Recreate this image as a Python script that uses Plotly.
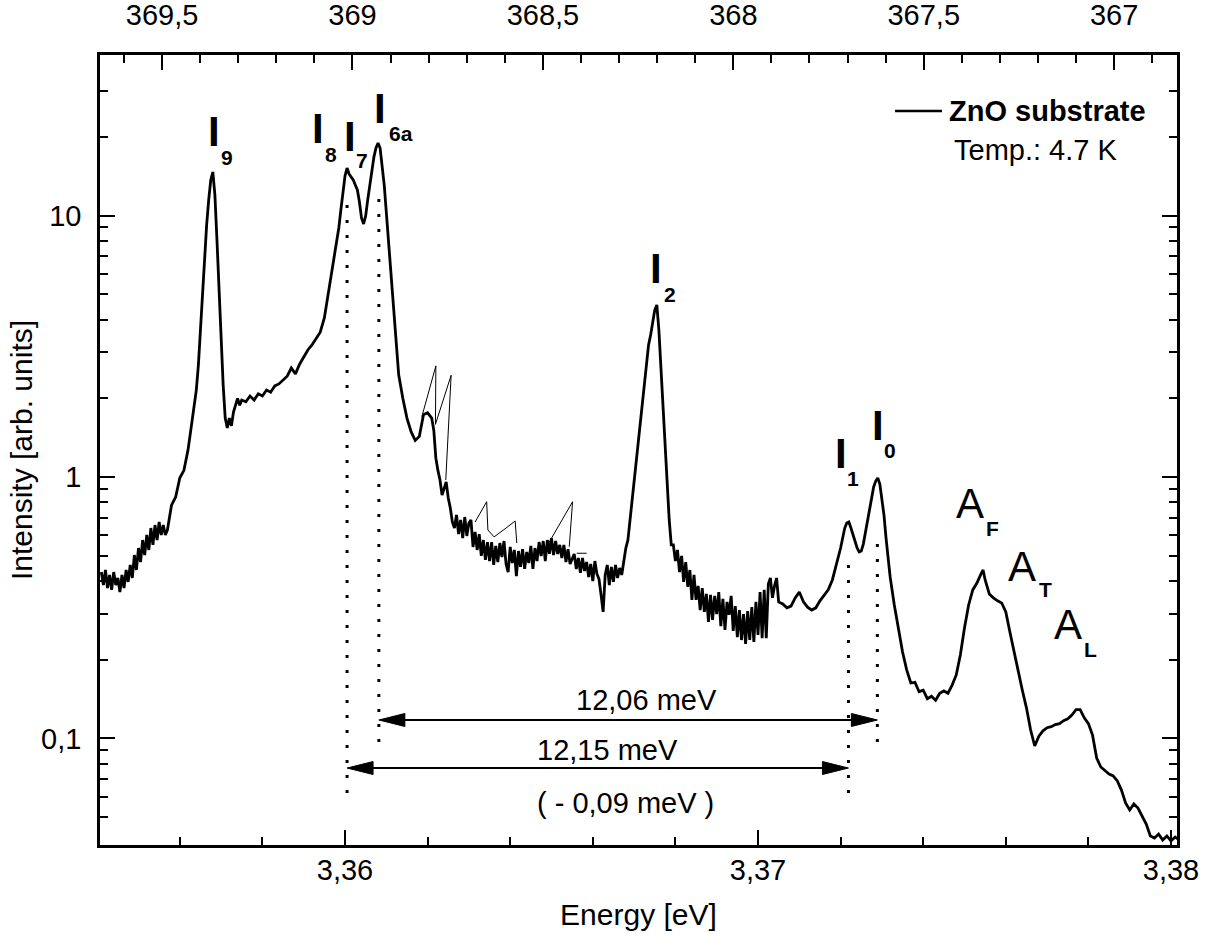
import numpy as np
import plotly.graph_objects as go

# ---------------- data (energy in eV, intensity in arb. units) ----------------
seg_a_energy = [3.35410, 3.35415, 3.35420, 3.35425, 3.35430, 3.35435, 3.35440, 3.35445, 3.35450, 3.35455,
                3.35460, 3.35465, 3.35470, 3.35475, 3.35480, 3.35485, 3.35490, 3.35495, 3.35500, 3.35505,
                3.35510, 3.35515, 3.35520, 3.35525, 3.35530, 3.35535, 3.35540, 3.35545, 3.35550, 3.35555,
                3.35560, 3.35565, 3.35570, 3.35575, 3.35580]
seg_a_intensity = [0.433, 0.386, 0.441, 0.376, 0.422, 0.370, 0.433, 0.386, 0.411, 0.363,
                   0.422, 0.376, 0.441, 0.397, 0.461, 0.411, 0.503, 0.441, 0.535, 0.473,
                   0.574, 0.503, 0.600, 0.526, 0.638, 0.550, 0.655, 0.574, 0.673, 0.600,
                   0.655, 0.600, 0.627, 0.716, 0.781]

seg_b_energy = [3.3559, 3.3560, 3.3561, 3.3562, 3.3563, 3.3564, 3.35645, 3.3565, 3.35655, 3.3566,
                3.35665, 3.3567, 3.35675, 3.3568, 3.35685, 3.3569, 3.35695, 3.3570, 3.35705, 3.3571,
                3.35715, 3.3572, 3.35725, 3.3573, 3.35735, 3.3574, 3.35745, 3.3575]
seg_b_intensity = [0.839, 0.991, 1.06, 1.27, 1.65, 2.15, 2.68, 3.65, 4.75, 7.06,
                   9.20, 11.47, 13.67, 14.67, 11.98, 8.06, 5.19, 3.34, 2.25, 1.68,
                   1.54, 1.68, 1.57, 1.77, 1.88, 2.00, 1.88, 1.97]

seg_c_energy = [3.3576, 3.3577, 3.3578, 3.3579, 3.3580, 3.3581, 3.3582, 3.3583, 3.3584, 3.3585,
                3.3586, 3.3587, 3.3588, 3.3589, 3.3590, 3.3591, 3.3592, 3.3593, 3.3594,
                3.3595, 3.35955, 3.3596, 3.35965, 3.3597, 3.35975, 3.3598, 3.35985, 3.3599, 3.35995,
                3.3600, 3.36005, 3.3601, 3.36015, 3.3602, 3.36025, 3.3603, 3.36035, 3.3604, 3.36045,
                3.3605, 3.36055, 3.3606, 3.36065, 3.3607, 3.36075, 3.3608, 3.36085, 3.3609, 3.36095,
                3.3610, 3.36105, 3.3611, 3.36115, 3.3612, 3.36125, 3.3613,
                3.3614, 3.3615, 3.3616, 3.3617, 3.3618, 3.3619, 3.3620, 3.3621,
                3.36215, 3.3622, 3.36225, 3.3623, 3.36235, 3.3624, 3.36245, 3.3625, 3.36255, 3.3626]
seg_c_intensity = [1.94, 2.04, 1.97, 2.08, 2.04, 2.15, 2.11, 2.23, 2.27, 2.35,
                   2.43, 2.61, 2.48, 2.70, 2.88, 3.06, 3.20, 3.40, 3.58,
                   4.06, 4.55, 5.10, 5.67, 6.30, 7.06, 7.92, 8.96, 10.50, 12.30,
                   14.16, 15.19, 14.41, 14.04, 13.67, 13.08, 12.52, 11.26, 9.78, 9.28,
                   9.96, 11.47, 13.20, 14.93, 16.74, 18.12, 18.93, 18.12, 15.60, 13.08,
                   10.31, 8.06, 6.30, 4.97, 3.91, 3.06, 2.46,
                   2.00, 1.68, 1.49, 1.38, 1.43, 1.73, 1.76, 1.68,
                   1.51, 1.18, 1.06, 0.974, 0.853, 0.908, 0.957, 0.831, 0.761, 0.673]

seg_d_energy = [3.36265, 3.36270, 3.36275, 3.36280, 3.36285, 3.36290, 3.36295, 3.36300, 3.36305, 3.36310,
                3.36315, 3.36320, 3.36325, 3.36330, 3.36335, 3.36340, 3.36345, 3.36350, 3.36355, 3.36360,
                3.36365, 3.36370, 3.36375, 3.36380, 3.36385, 3.36390, 3.36395, 3.36400, 3.36405, 3.36410,
                3.36415, 3.36420, 3.36425, 3.36430, 3.36435, 3.36440, 3.36445, 3.36450, 3.36455, 3.36460,
                3.36465, 3.36470, 3.36475, 3.36480, 3.36485, 3.36490, 3.36495, 3.36500, 3.36505, 3.36510,
                3.36515, 3.36520, 3.36525, 3.36530, 3.36535, 3.36540, 3.36545, 3.36550, 3.36555, 3.36560,
                3.36565, 3.36570, 3.36575, 3.36580, 3.36585, 3.36590, 3.36595, 3.36600, 3.36605, 3.36610,
                3.36615, 3.36620, 3.36625, 3.36630, 3.36635, 3.36640, 3.36645, 3.36650, 3.36655, 3.36660]
seg_d_intensity = [0.638, 0.716, 0.605, 0.685, 0.584, 0.703, 0.595, 0.667, 0.685, 0.540,
                   0.616, 0.526, 0.605, 0.499, 0.574, 0.482, 0.564, 0.477, 0.564, 0.461,
                   0.545, 0.473, 0.559, 0.494, 0.569, 0.465, 0.433, 0.540, 0.469, 0.526,
                   0.418, 0.521, 0.453, 0.530, 0.445, 0.517, 0.469, 0.545, 0.445, 0.535,
                   0.477, 0.564, 0.499, 0.569, 0.477, 0.574, 0.508, 0.584, 0.503, 0.569,
                   0.508, 0.550, 0.490, 0.550, 0.473, 0.530, 0.465, 0.486, 0.508, 0.445,
                   0.490, 0.430, 0.490, 0.437, 0.473, 0.414, 0.465, 0.400, 0.477, 0.426,
                   0.407, 0.354, 0.305, 0.422, 0.461, 0.386, 0.453, 0.397, 0.461, 0.411]

seg_e_energy = [3.36665, 3.3667, 3.36675, 3.3668, 3.36685, 3.3669, 3.36695, 3.3670, 3.36705, 3.3671,
                3.36715, 3.3672, 3.36725, 3.3673, 3.36735, 3.3674, 3.36745, 3.3675, 3.36755, 3.3676,
                3.36765, 3.3677, 3.36775, 3.3678, 3.36785, 3.3679]
seg_e_intensity = [0.449, 0.422, 0.482, 0.535, 0.574, 0.685, 0.781, 0.957, 1.16, 1.38,
                   1.65, 1.97, 2.39, 2.80, 3.20, 3.49, 3.98, 4.35, 4.55, 3.65,
                   2.61, 1.88, 1.33, 0.932, 0.685, 0.550]

seg_f_energy = [3.36795, 3.36800, 3.36805, 3.36810, 3.36815, 3.36820, 3.36825, 3.36830, 3.36835, 3.36840,
                3.36845, 3.36850, 3.36855, 3.36860, 3.36865, 3.36870, 3.36875, 3.36880, 3.36885, 3.36890,
                3.36895, 3.36900, 3.36905, 3.36910, 3.36915, 3.36920, 3.36925, 3.36930, 3.36935, 3.36940,
                3.36945, 3.36950, 3.36955, 3.36960, 3.36965, 3.36970, 3.36975, 3.36980, 3.36985, 3.36990,
                3.36995, 3.37000, 3.37005, 3.37010, 3.37015, 3.37020, 3.37025, 3.37030, 3.37035, 3.37040,
                3.37045, 3.37050]
seg_f_intensity = [0.550, 0.477, 0.526, 0.433, 0.499, 0.397, 0.473, 0.380, 0.441, 0.339,
                   0.422, 0.339, 0.383, 0.310, 0.376, 0.305, 0.357, 0.279, 0.354, 0.284,
                   0.351, 0.299, 0.363, 0.269, 0.342, 0.260, 0.333, 0.297, 0.351, 0.258,
                   0.321, 0.244, 0.310, 0.238, 0.299, 0.230, 0.307, 0.238, 0.318, 0.234,
                   0.333, 0.249, 0.363, 0.242, 0.370, 0.242, 0.390, 0.411, 0.345, 0.383,
                   0.411, 0.333]

seg_g_energy = [3.3706, 3.3707, 3.3708, 3.3709, 3.3710, 3.3711, 3.3712, 3.3713, 3.3714, 3.3715,
                3.3716, 3.3717, 3.3718, 3.3719,
                3.3720, 3.37205, 3.3721, 3.37215, 3.3722, 3.37225, 3.3723, 3.37235, 3.3724, 3.37245,
                3.3725, 3.37255, 3.3726, 3.37265, 3.3727, 3.37275, 3.3728, 3.37285, 3.3729, 3.37295,
                3.3730, 3.37305, 3.3731, 3.37315, 3.3732,
                3.3733, 3.3734, 3.3735, 3.3736, 3.3737, 3.3738, 3.3739, 3.3740, 3.3741, 3.3742,
                3.3743, 3.3744, 3.3745, 3.3746, 3.3747, 3.3748, 3.3749, 3.3750, 3.3751, 3.3752,
                3.3753, 3.3754, 3.37545,
                3.3755, 3.3756, 3.3757, 3.3758, 3.3759, 3.3760, 3.3761, 3.3762, 3.3763, 3.3764,
                3.3765, 3.3766, 3.3767, 3.3768, 3.3769, 3.3770, 3.3771, 3.3772, 3.3773, 3.3774,
                3.3775, 3.3776, 3.3777, 3.3778, 3.3779, 3.3780, 3.3781, 3.3782, 3.3783, 3.3784,
                3.3785, 3.3786, 3.3787, 3.3788, 3.3789, 3.3790, 3.3791, 3.3792, 3.3793, 3.3794,
                3.3795, 3.3796, 3.3797, 3.3798, 3.3799, 3.3800, 3.3801, 3.3802]
seg_g_intensity = [0.327, 0.316, 0.321, 0.345, 0.363, 0.333, 0.318, 0.310, 0.316, 0.336,
                   0.351, 0.370, 0.404, 0.461,
                   0.535, 0.584, 0.638, 0.667, 0.673, 0.638, 0.600, 0.564, 0.535, 0.517,
                   0.521, 0.554, 0.616, 0.685, 0.761, 0.839, 0.916, 0.965, 0.991, 0.940,
                   0.817, 0.716, 0.584, 0.490, 0.414,
                   0.324, 0.265, 0.214, 0.183, 0.163, 0.164, 0.151, 0.153, 0.142, 0.145,
                   0.140, 0.149, 0.152, 0.149, 0.160, 0.175, 0.209, 0.265, 0.324, 0.370,
                   0.393, 0.426, 0.441,
                   0.404, 0.357, 0.345, 0.336, 0.330, 0.305, 0.255, 0.214, 0.180, 0.153,
                   0.131, 0.108, 0.0936, 0.102, 0.107, 0.110, 0.111, 0.113, 0.114, 0.117,
                   0.119, 0.123, 0.129, 0.129, 0.120, 0.114, 0.103, 0.0842, 0.0778, 0.0751,
                   0.0731, 0.0719, 0.0688, 0.0635, 0.0567, 0.0533, 0.0562, 0.0542, 0.0505, 0.0471,
                   0.0424, 0.0416, 0.0431, 0.0409, 0.0424, 0.0406, 0.0420, 0.0409]

# thin overlay strokes (separate fragments)
thin_energy = [3.36186, 3.36220, 3.36219, 3.36257, 3.36244, None,
               3.36315, 3.36343, 3.36346, 3.36361, 3.36390, 3.36412, 3.36416, None,
               3.36488, 3.36551, 3.36543, None,
               3.36561, 3.36585]
thin_intensity = [1.70, 2.66, 1.59, 2.45, 0.974, None,
                  0.673, 0.804, 0.627, 0.590, 0.638, 0.679, 0.559, None,
                  0.541, 0.804, 0.541, None,
                  0.511, 0.511]

# dotted guide lines at I8, I6a, I1, I0
guide_energy = [3.36005, 3.36082, 3.37219, 3.37289]
guide_top = [11.77, 12.74, 0.482, 0.559]
guide_bottom = [0.0619, 0.0970, 0.0619, 0.0970]

# arrows between the guide lines
arrow_left = [3.36082, 3.36005]
arrow_right = [3.37289, 3.37219]
arrow_level = [0.1177, 0.0771]
arrow_text = ["12,06 meV", "12,15 meV", "( - 0,09 meV )"]
arrow_text_energy = [3.367288, 3.366344, 3.366780]
arrow_text_level = [0.1404, 0.0904, 0.0567]

# peak labels
label_main = ["I", "I", "I", "I", "I", "I", "I", "A", "A", "A"]
label_main_energy = [3.356828, 3.359358, 3.360109, 3.360847, 3.367542, 3.371998, 3.372906, 3.375121, 3.376380, 3.377494]
label_main_level = [20.95, 21.51, 20.05, 25.77, 6.245, 1.235, 1.580, 0.795, 0.455, 0.272]
label_sub = ["9", "8", "7", "6a", "2", "1", "0", "F", "T", "L"]
label_sub_energy = [3.357143, 3.359673, 3.360412, 3.361356, 3.367857, 3.372288, 3.373196, 3.375678, 3.376949, 3.378039]
label_sub_level = [16.67, 17.12, 16.23, 20.59, 4.988, 0.987, 1.268, 0.633, 0.370, 0.218]

bottom_tickvals = [3.36, 3.37, 3.38]
bottom_ticktext = ["3,36", "3,37", "3,38"]
left_tickvals = [0.1, 1, 10]
left_ticktext = ["0,1", "1", "10"]
left_minor = [0.05, 0.06, 0.07, 0.08, 0.09, 0.2, 0.3, 0.4, 0.5, 0.6, 0.7, 0.8, 0.9,
              2, 3, 4, 5, 6, 7, 8, 9, 20, 30]
top_tickvals = [369.5, 369.0, 368.5, 368.0, 367.5, 367.0]
top_ticktext = ["369,5", "369", "368,5", "368", "367,5", "367"]

# ---------------- layout geometry ----------------
W, H = 1216, 938
ML, MR, MT, MB = 100, 39, 55, 93
x_range = [3.354068, 3.380145]
y_log_range = [-1.4073, 1.6138]
wl_range = [369.663, 366.835]
FONT = "Liberation Sans, Arial, sans-serif"

energy = seg_a_energy + seg_b_energy + seg_c_energy + seg_d_energy + seg_e_energy + seg_f_energy + seg_g_energy
intensity = (seg_a_intensity + seg_b_intensity + seg_c_intensity + seg_d_intensity
             + seg_e_intensity + seg_f_intensity + seg_g_intensity)

fig = go.Figure()

fig.add_trace(go.Scatter(x=energy, y=intensity, mode="lines",
                         line=dict(color="black", width=2.8), name="ZnO substrate",
                         showlegend=False, hoverinfo="skip"))
fig.add_trace(go.Scatter(x=thin_energy, y=thin_intensity, mode="lines",
                         line=dict(color="black", width=1), connectgaps=False,
                         showlegend=False, hoverinfo="skip"))

for e, top, bot in zip(guide_energy, guide_top, guide_bottom):
    fig.add_trace(go.Scatter(x=[e, e], y=[bot, top], mode="lines",
                             line=dict(color="black", width=3, dash="3px,12px"),
                             showlegend=False, hoverinfo="skip"))

# arrow shafts and heads
ev_per_px = (x_range[1] - x_range[0]) / (W - ML - MR)
dec_per_px = (y_log_range[1] - y_log_range[0]) / (H - MT - MB)
head_len = 26 * ev_per_px
head_half = 10 ** (6.5 * dec_per_px)
for el, er, lv in zip(arrow_left, arrow_right, arrow_level):
    fig.add_trace(go.Scatter(x=[el + head_len * 0.5, er - head_len * 0.5], y=[lv, lv], mode="lines",
                             line=dict(color="black", width=2), showlegend=False, hoverinfo="skip"))
    fig.add_trace(go.Scatter(x=[el, el + head_len, el + head_len, el],
                             y=[lv, lv * head_half, lv / head_half, lv],
                             mode="lines", fill="toself", fillcolor="black",
                             line=dict(color="black", width=1), showlegend=False, hoverinfo="skip"))
    fig.add_trace(go.Scatter(x=[er, er - head_len, er - head_len, er],
                             y=[lv, lv * head_half, lv / head_half, lv],
                             mode="lines", fill="toself", fillcolor="black",
                             line=dict(color="black", width=1), showlegend=False, hoverinfo="skip"))

annotations = []
for t, e, v in zip(arrow_text, arrow_text_energy, arrow_text_level):
    annotations.append(dict(x=e, y=np.log10(v), xref="x", yref="y", text=t, showarrow=False,
                            xanchor="center", yanchor="middle",
                            font=dict(family=FONT, size=29, color="black")))
for t, e, v in zip(label_main, label_main_energy, label_main_level):
    bold = t == "I"
    annotations.append(dict(x=e, y=np.log10(v), xref="x", yref="y",
                            text=("<b>%s</b>" % t) if bold else t, showarrow=False,
                            xanchor="center", yanchor="middle",
                            font=dict(family=FONT, size=42, color="black")))
for t, e, v in zip(label_sub, label_sub_energy, label_sub_level):
    annotations.append(dict(x=e, y=np.log10(v), xref="x", yref="y", text="<b>%s</b>" % t,
                            showarrow=False, xanchor="center", yanchor="middle",
                            font=dict(family=FONT, size=21, color="black")))

# legend-like key
annotations.append(dict(x=0.7865, y=0.9297, xref="paper", yref="paper", text="<b>ZnO substrate</b>",
                        showarrow=False, xanchor="left", yanchor="middle",
                        font=dict(family=FONT, size=29, color="black")))
annotations.append(dict(x=0.7911, y=0.8797, xref="paper", yref="paper", text="Temp.: 4.7 K",
                        showarrow=False, xanchor="left", yanchor="middle",
                        font=dict(family=FONT, size=29, color="black")))
shapes = [dict(type="line", xref="paper", yref="paper", x0=0.7382, x1=0.7818, y0=0.9291, y1=0.9291,
               line=dict(color="black", width=2.5))]

axis_common = dict(showgrid=False, zeroline=False, showline=True, linecolor="black", linewidth=2.5,
                   ticks="inside", ticklen=15, tickwidth=2, tickcolor="black", automargin=False,
                   tickfont=dict(family=FONT, size=29, color="black"))

fig.update_layout(
    width=W, height=H,
    margin=dict(l=ML, r=MR, t=MT, b=MB, pad=0, autoexpand=False),
    paper_bgcolor="white", plot_bgcolor="white",
    font=dict(family=FONT, color="black"),
    showlegend=False,
    xaxis=dict(range=x_range, tickvals=bottom_tickvals, ticktext=bottom_ticktext,
               minor=dict(dtick=0.002, tick0=3.36, ticks="inside", ticklen=8, tickwidth=1.5, tickcolor="black"),
               title=dict(text="Energy [eV]", font=dict(family=FONT, size=30), standoff=20),
               ticklabelstandoff=-3, mirror=False, **axis_common),
    xaxis2=dict(range=wl_range, overlaying="x", side="top", anchor="y",
                tickvals=top_tickvals, ticktext=top_ticktext,
                minor=dict(dtick=0.1, tick0=367, ticks="inside", ticklen=8, tickwidth=1.5, tickcolor="black"),
                ticklabelstandoff=16, **axis_common),
    yaxis=dict(type="log", range=y_log_range, tickvals=left_tickvals, ticktext=left_ticktext,
               minor=dict(tickvals=left_minor, ticks="inside", ticklen=8, tickwidth=1.5, tickcolor="black"),
               title=dict(text="Intensity [arb. units]", font=dict(family=FONT, size=30), standoff=0),
               ticklabelstandoff=10, mirror="ticks", **axis_common),
    annotations=annotations,
    shapes=shapes,
)

fig.add_trace(go.Scatter(x=top_tickvals, y=[1] * len(top_tickvals), xaxis="x2", mode="markers",
                         marker=dict(opacity=0), showlegend=False, hoverinfo="skip"))

fig.write_html("out.html", config={"displayModeBar": False},
               post_script="document.body.style.margin='0';document.body.style.padding='0';")
